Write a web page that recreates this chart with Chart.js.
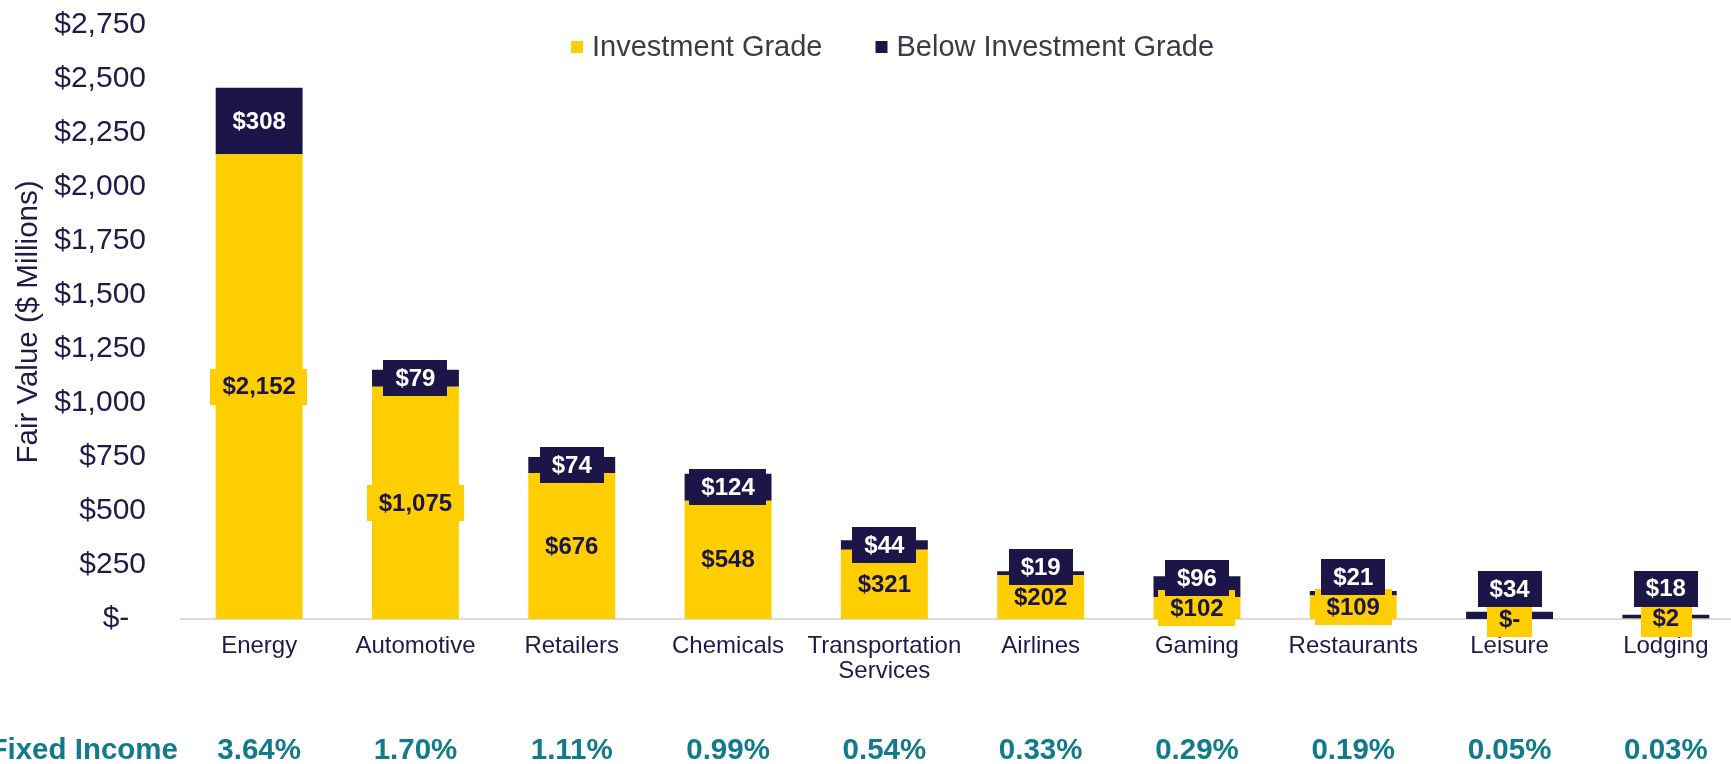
<!DOCTYPE html>
<html>
<head>
<meta charset="utf-8">
<script src="https://cdn.jsdelivr.net/npm/chart.js@4/dist/chart.umd.min.js"></script>
<style>
html,body{margin:0;padding:0;overflow:hidden;background:#fff;width:1731px;height:764px}
canvas{display:block}
</style>
</head>
<body>
<canvas id="c" width="1760" height="764"></canvas>
<script>
// ---- data ----
const categories = ['Energy','Automotive','Retailers','Chemicals',['Transportation','Services'],'Airlines','Gaming','Restaurants','Leisure','Lodging'];
const investmentGrade = [2152,1075,676,548,321,202,102,109,0,2];
const belowInvestmentGrade = [308,79,74,124,44,19,96,21,34,18];
const fixedIncomePct = ['3.64%','1.70%','1.11%','0.99%','0.54%','0.33%','0.29%','0.19%','0.05%','0.03%'];
const rowLabel = 'Fixed Income';
const seriesNames = ['Investment Grade','Below Investment Grade'];
const yMin = 0, yMax = 2750, yStep = 250;
const yTitle = 'Fair Value ($ Millions)';

// ---- style ----
const FONT = '"Liberation Sans", Arial, Helvetica, sans-serif';
const YELLOW = '#FFCE00';
const NAVY = '#1C1648';
const TEXT = '#1E1B4B';
const TEAL = '#117A8B';
const LEGEND_TEXT = '#3A3A48';

const fmt = v => v === 0 ? '$-' : '$' + v.toLocaleString('en-US');

const segLabels = {
  id: 'segLabels',
  afterDatasetsDraw(chart) {
    const ctx = chart.ctx, y = chart.scales.y;
    const m0 = chart.getDatasetMeta(0), m1 = chart.getDatasetMeta(1);
    ctx.save();
    ctx.font = 'bold 24px ' + FONT;
    ctx.textAlign = 'center';
    ctx.textBaseline = 'middle';
    const boxH = 36, padX = 12;
    const drawBox = (x, yc, text, bg, fg) => {
      const w = ctx.measureText(text).width + padX * 2;
      ctx.fillStyle = bg;
      ctx.fillRect(Math.round(x - w / 2), Math.round(yc - boxH / 2), Math.round(w), boxH);
      ctx.fillStyle = fg;
      ctx.fillText(text, x, yc + 1);
    };
    const igCenters = [];
    investmentGrade.forEach((v, i) => {
      const x = m0.data[i].x;
      const yc = (y.getPixelForValue(0) + y.getPixelForValue(v)) / 2;
      igCenters.push(yc);
      drawBox(x, yc, fmt(v), YELLOW, NAVY);
    });
    belowInvestmentGrade.forEach((v, i) => {
      const x = m1.data[i].x;
      const b = investmentGrade[i];
      const seg = (y.getPixelForValue(b) + y.getPixelForValue(b + v)) / 2;
      const yc = Math.min(seg, igCenters[i] - 30);
      drawBox(x, yc, fmt(v), NAVY, '#FFFFFF');
    });
    ctx.restore();
  }
};

const extras = {
  id: 'extras',
  afterDraw(chart) {
    const ctx = chart.ctx, xs = chart.scales.x;
    ctx.save();
    // fixed income row
    ctx.font = 'bold 29.5px ' + FONT;
    ctx.fillStyle = TEAL;
    ctx.textBaseline = 'middle';
    ctx.textAlign = 'right';
    ctx.fillText(rowLabel, chart.chartArea.left - 3, 751);
    ctx.textAlign = 'center';
    fixedIncomePct.forEach((t, i) => {
      ctx.fillText(t, xs.getPixelForValue(i), 751);
    });
    // legend
    ctx.font = '29px ' + FONT;
    ctx.textAlign = 'left';
    let x = 571;
    const yc = 47, sq = 12;
    chart.data.datasets.forEach((ds, i) => {
      ctx.fillStyle = ds.backgroundColor;
      ctx.fillRect(x, yc - sq / 2, sq, sq);
      x += sq + 9;
      ctx.fillStyle = LEGEND_TEXT;
      ctx.fillText(ds.label, x, yc + 1);
      x += ctx.measureText(ds.label).width + 53;
    });
    ctx.restore();
  }
};

new Chart(document.getElementById('c'), {
  type: 'bar',
  data: {
    labels: categories,
    datasets: [
      { label: seriesNames[0], data: investmentGrade, backgroundColor: YELLOW, barPercentage: 0.556, categoryPercentage: 1 },
      { label: seriesNames[1], data: belowInvestmentGrade, backgroundColor: NAVY, barPercentage: 0.556, categoryPercentage: 1 }
    ]
  },
  options: {
    responsive: false,
    animation: false,
    devicePixelRatio: 1,
    layout: { padding: { left: 0, right: 16, top: 25, bottom: 0 } },
    plugins: { legend: { display: false }, tooltip: { enabled: false } },
    scales: {
      x: {
        stacked: true,
        grid: { display: false, drawTicks: false },
        border: { display: true, color: '#DADAE2', width: 2 },
        ticks: { color: TEXT, font: { family: FONT, size: 24, lineHeight: 1.05 }, padding: 15, autoSkip: false, maxRotation: 0 },
        afterFit(s) { s.height = 145; s.paddingLeft = 0; s.paddingRight = 0; }
      },
      y: {
        stacked: true,
        min: yMin, max: yMax,
        grid: { display: false, drawTicks: false },
        border: { display: false },
        ticks: {
          stepSize: yStep,
          color: TEXT,
          padding: 35,
          font: { family: FONT, size: 30 },
          callback: v => v === 0 ? '$-  ' : '$' + v.toLocaleString('en-US')
        },
        title: { display: true, text: yTitle, color: TEXT, font: { family: FONT, size: 29.5 }, padding: { top: 11, bottom: 0 } },
        afterFit(s) { s.width = 181; s.paddingTop = 0; s.paddingBottom = 0; }
      }
    }
  },
  plugins: [segLabels, extras]
});
</script>
</body>
</html>
